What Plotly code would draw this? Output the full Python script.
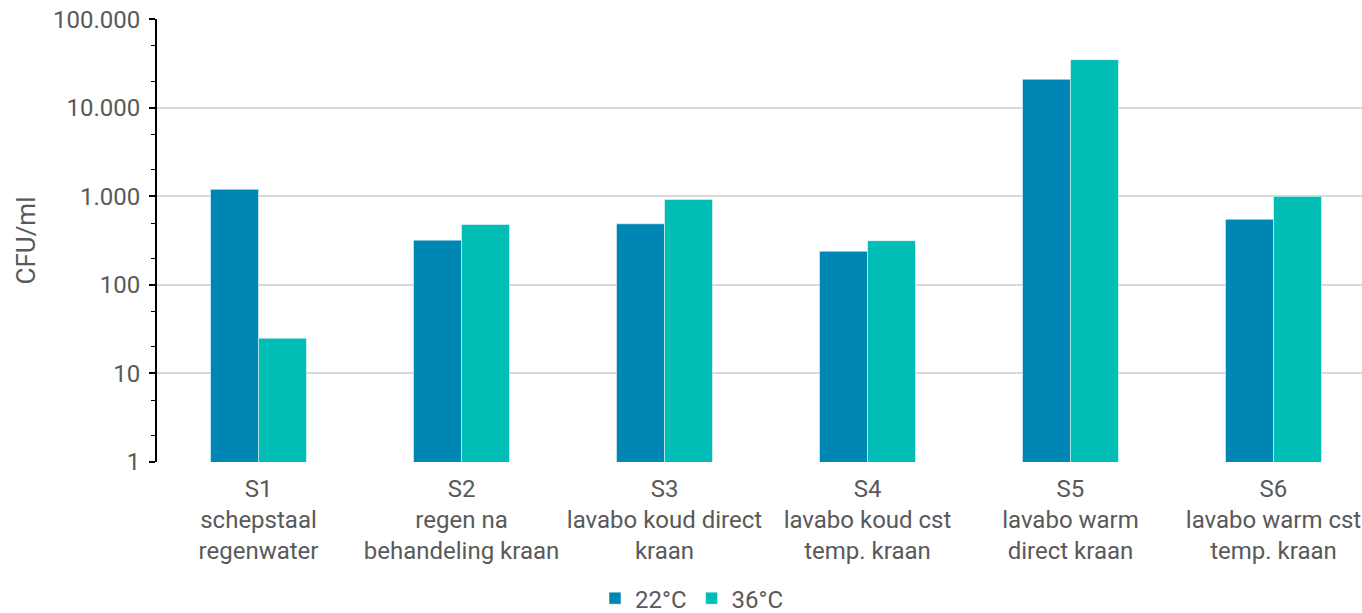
import plotly.graph_objects as go

categories = [
    "S1<br>schepstaal<br>regenwater",
    "S2<br>regen na<br>behandeling kraan",
    "S3<br>lavabo koud direct<br>kraan",
    "S4<br>lavabo koud cst<br>temp. kraan",
    "S5<br>lavabo warm<br>direct kraan",
    "S6<br>lavabo warm cst<br>temp. kraan",
]
series_names = ["22°C", "36°C"]
values_22 = [1200, 320, 490, 240, 21000, 550]
values_36 = [25, 480, 920, 316, 35000, 1000]
y_tick_vals = [1, 10, 100, 1000, 10000, 100000]
y_tick_text = ["1", "10", "100", "1.000", "10.000", "100.000"]

colors = ["#0086B4", "#00BDB6"]
font_color = "#595959"
fs = 24

fig = go.Figure()
for name, vals, col in zip(series_names, [values_22, values_36], colors):
    fig.add_trace(go.Bar(
        x=list(range(len(categories))), y=vals, name=name,
        marker=dict(color=col, line=dict(color="rgba(255,255,255,0.5)", width=1)),
    ))

fig.update_layout(
    width=1362, height=613,
    margin=dict(l=157, r=0, t=19, b=151, autoexpand=False),
    paper_bgcolor="white", plot_bgcolor="white",
    font=dict(family="Roboto", size=fs, color=font_color),
    barmode="group", bargap=0.527, bargroupgap=0,
    separators=",.",
    showlegend=True,
    legend=dict(orientation="h", x=0.444, xanchor="center", y=-0.2575, yanchor="top",
                font=dict(size=fs, color=font_color), traceorder="normal"),
)
fig.update_xaxes(
    tickmode="array", tickvals=list(range(len(categories))), ticktext=categories,
    range=[-0.5, 5.436], showgrid=False, showline=False, ticks="", zeroline=False,
    tickfont=dict(size=fs, color=font_color), ticklabelstandoff=10, automargin=False,
)
fig.update_yaxes(
    type="log", range=[0, 5.003], tickmode="array", tickvals=y_tick_vals, ticktext=y_tick_text,
    showgrid=True, gridcolor="#D9D9D9", gridwidth=1.5,
    showline=True, linecolor="black", linewidth=2,
    ticks="outside", ticklen=6, tickcolor="black", tickwidth=1.5,
    minor=dict(ticks="outside", ticklen=4, tickcolor="black", tickwidth=1, showgrid=False),
    tickfont=dict(size=fs, color=font_color), ticklabelstandoff=4, ticklabeloverflow="allow",
    automargin=False,
    title=dict(text="CFU/ml", font=dict(size=26, color=font_color), standoff=10),
)

fig.write_html("out.html", config={"displayModeBar": False},
               post_script="document.body.style.margin='0';")
